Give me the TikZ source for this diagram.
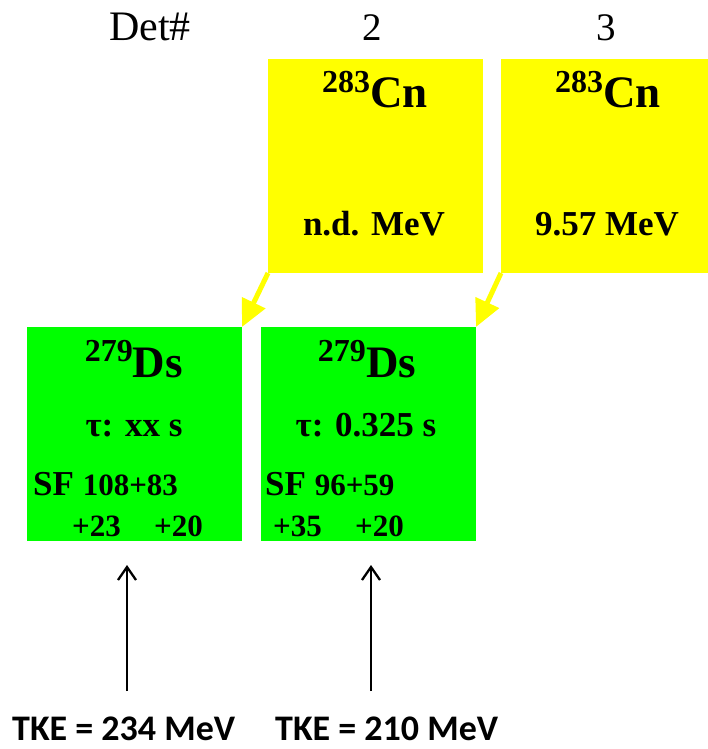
\documentclass[tikz,border=0pt]{standalone}
\usepackage{fontspec}
\setmainfont{Liberation Serif}
\newfontfamily\calibfont{Carlito}
\usetikzlibrary{arrows.meta}
\definecolor{yel}{RGB}{255,255,0}
\definecolor{grn}{RGB}{0,255,0}
\newcommand\nuc[5]{{\fontsize{#1}{#1}\selectfont\raisebox{#2pt}{#3}}{\fontsize{#4}{#4}\selectfont #5}}
\newcommand\fs[1]{\fontsize{#1}{#1}\selectfont}
\begin{document}
\begin{tikzpicture}[x=1pt,y=-1pt,
  ybox/.style={fill=yel, minimum width=215pt, minimum height=214pt, inner sep=0pt, outer sep=0pt, anchor=north west},
  gbox/.style={fill=grn, minimum width=215pt, minimum height=214pt, inner sep=0pt, outer sep=0pt, anchor=north west},
  txt/.style={anchor=base, inner sep=0pt, font=\bfseries},
  txtw/.style={anchor=base west, inner sep=0pt, font=\bfseries},
  yarrow/.style={draw=yel, line width=5pt, -{Triangle[length=27pt,width=25pt]}},
  barrow/.style={draw=black, line width=2.3pt, -{Straight Barb[length=13pt,width=18pt,line width=2.3pt]}},
  tke/.style={anchor=base west, inner sep=0pt, font=\calibfont\bfseries\fs{36}}]
\useasboundingbox (0,0) rectangle (708,749);

% header
\node[anchor=base, inner sep=0pt, font=\fs{42}] (det) at (150,41) {Det\#};
\node[anchor=base, inner sep=0pt, font=\fs{39}] (d2) at (372,41) {2};
\node[anchor=base, inner sep=0pt, font=\fs{39}] (d3) at (606,41) {3};

% boxes
\node[ybox] (y2) at (268,59) {};
\node[ybox] (y3) at (501,59) {};
\node[gbox] (g1) at (27,327) {};
\node[gbox] (g2) at (261,327) {};

% yellow box texts
\node[txt] (cn2) at (375,108) {\nuc{32}{15}{283}{45}{Cn}};
\node[txt] (e2) at (374,235) {\fs{35}n.d. MeV};
\node[txt] (cn3) at (608,108) {\nuc{32}{15}{283}{45}{Cn}};
\node[txt] (e3) at (607,235) {\fs{35}9.57 MeV};

% green box 1
\node[txt] (ds1) at (134,377) {\nuc{32}{16}{279}{45}{Ds}};
\node[txt] (tau1) at (134,436) {\fs{35}τ: xx s};
\node[txtw] (sf1) at (33,495) {\fs{35}SF \fs{31}108+83};
\node[txtw] (a1) at (72,536) {\fs{31}+23};
\node[txtw] (b1) at (154,536) {\fs{31}+20};

% green box 2
\node[txt] (ds2) at (367,377) {\nuc{32}{16}{279}{45}{Ds}};
\node[txt] (tau2) at (366,436) {\fs{35}τ: 0.325 s};
\node[txtw] (sf2) at (265,495) {\fs{35}SF \fs{31}96+59};
\node[txtw] (a2) at (273,536) {\fs{31}+35};
\node[txtw] (b2) at (355,536) {\fs{31}+20};

% yellow arrows
\draw[yarrow] (y2.south west) -- (g1.north east);
\draw[yarrow] (y3.south west) -- (g2.north east);

% TKE labels and arrows
\node[tke] (tke1) at (12,740) {TKE = 234 MeV};
\node[tke] (tke2) at (275,740) {TKE = 210 MeV};
\coordinate (s1) at (127,691);
\coordinate (h1) at (127,565);
\coordinate (s2) at (371,691);
\coordinate (h2) at (371,565);
\draw[barrow] (s1) -- (h1);
\draw[barrow] (s2) -- (h2);
\end{tikzpicture}
\end{document}
